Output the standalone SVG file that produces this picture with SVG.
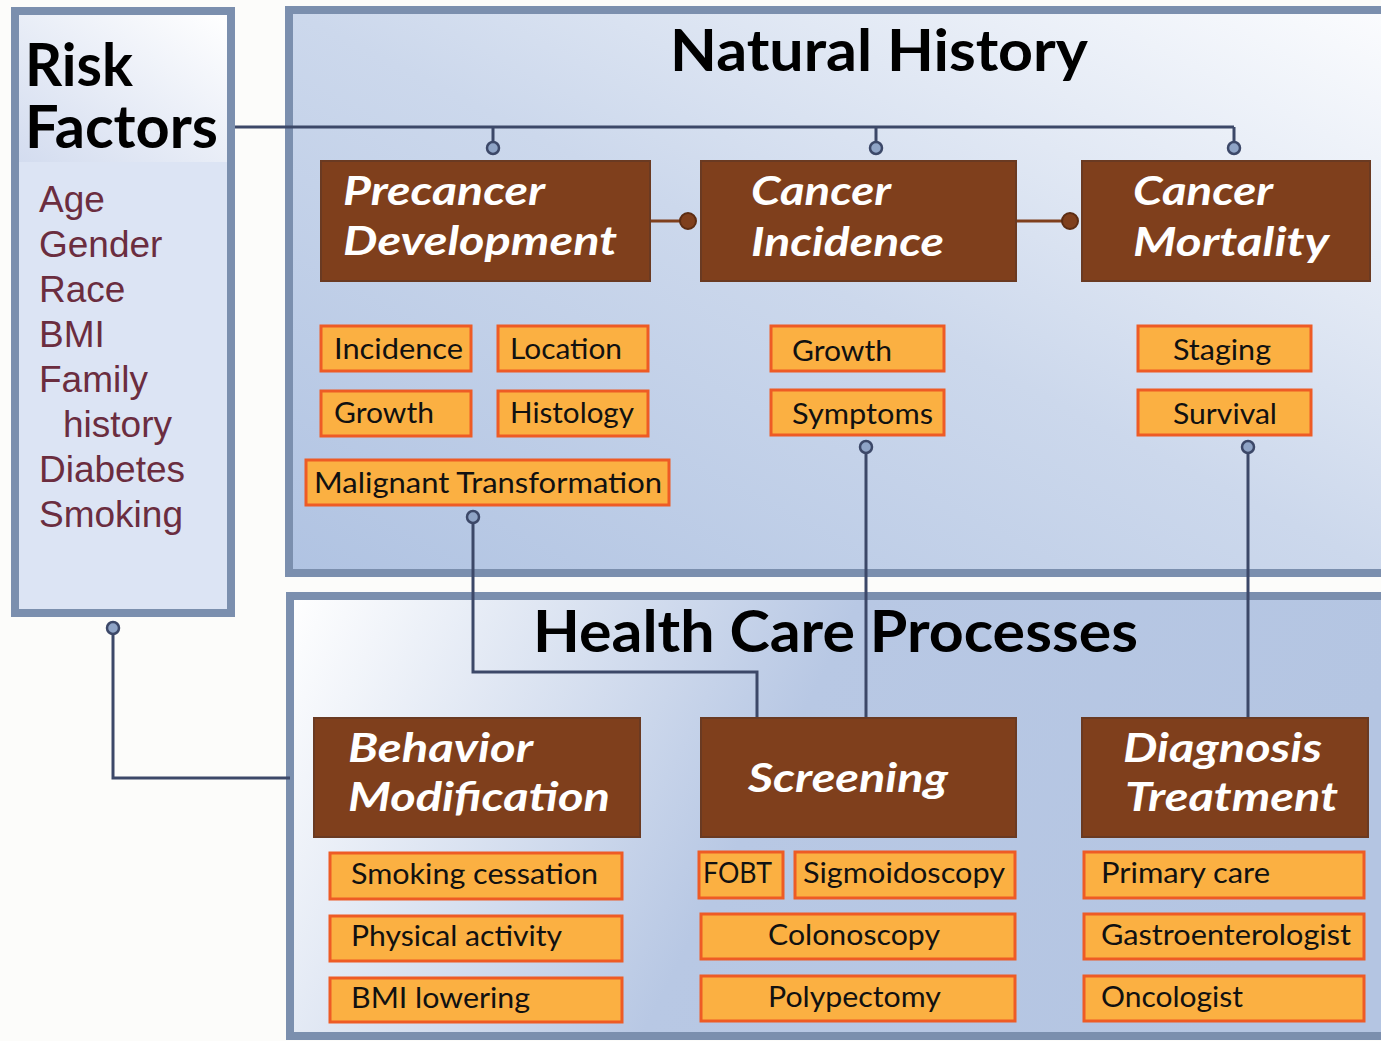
<svg xmlns="http://www.w3.org/2000/svg" width="1381" height="1041" viewBox="0 0 1381 1041">
<defs>
<linearGradient id="gNat" x1="0" y1="1" x2="1" y2="0">
<stop offset="0" stop-color="#b0c3e2"/>
<stop offset="0.5" stop-color="#ccd8ec"/>
<stop offset="1" stop-color="#fbfcfe"/>
</linearGradient>
<linearGradient id="gHcp" x1="0" y1="0" x2="1" y2="0.2">
<stop offset="0" stop-color="#ffffff"/>
<stop offset="0.5" stop-color="#b8c8e4"/>
<stop offset="1" stop-color="#b4c5e2"/>
</linearGradient>
<linearGradient id="gRisk" x1="1" y1="0" x2="0" y2="1">
<stop offset="0" stop-color="#ffffff"/>
<stop offset="1" stop-color="#d3dcef"/>
</linearGradient>
<style>
.panel{stroke:#7b8fae;stroke-width:8}
.title{font-family:Lato,"Liberation Sans",sans-serif;font-weight:bold;fill:#000}
.brown{fill:#7f3f1c;stroke:#6a3a22;stroke-width:2}
.btxt{font-family:Lato,"Liberation Sans",sans-serif;font-weight:bold;font-style:italic;font-size:40px;fill:#fff}
.orange{fill:#fbb042;stroke:#ee5b25;stroke-width:3}
.otxt{font-family:Lato,"Liberation Sans",sans-serif;font-size:29px;fill:#111}
.risk{font-family:"Liberation Sans",Arial,sans-serif;font-size:37px;fill:#6b2d3f}
.conn{fill:none;stroke:#3c4868;stroke-width:3}
.bconn{fill:none;stroke:#7f3f1c;stroke-width:3}
.dot{fill:#8fa4c6;stroke:#3c4868;stroke-width:2.5}
.bdot{fill:#7f3f1c;stroke:#5c2c12;stroke-width:2}
</style>
</defs>
<rect x="0" y="0" width="1381" height="1041" fill="#fcfcfa"/>

<g id="panel-natural-history">
<rect class="panel" x="289" y="10" width="1100" height="563" fill="url(#gNat)"/>
<text class="title" x="670" y="71" font-size="58" textLength="418" lengthAdjust="spacingAndGlyphs">Natural History</text>
</g>
<g id="panel-health-care">
<rect class="panel" x="290" y="596" width="1100" height="440" fill="url(#gHcp)"/>
<text class="title" x="533" y="652" font-size="58" textLength="605" lengthAdjust="spacingAndGlyphs">Health Care Processes</text>
</g>

<g id="risk-factors">
<rect class="panel" x="15" y="11" width="216" height="602" fill="#dce4f4"/>
<rect x="19" y="15" width="208" height="147" fill="url(#gRisk)"/>
<text class="title" font-size="60"><tspan x="25" y="86" textLength="108" lengthAdjust="spacingAndGlyphs">Risk</tspan><tspan x="25" y="148" textLength="193" lengthAdjust="spacingAndGlyphs">Factors</tspan></text>
<text class="risk" x="39" y="212">Age</text>
<text class="risk" x="39" y="257">Gender</text>
<text class="risk" x="39" y="302">Race</text>
<text class="risk" x="39" y="347">BMI</text>
<text class="risk" x="39" y="392">Family</text>
<text class="risk" x="63" y="437">history</text>
<text class="risk" x="39" y="482">Diabetes</text>
<text class="risk" x="39" y="527">Smoking</text>
</g>

<g id="connectors">
<path class="conn" d="M235 127 H1234 M493 127 V142 M876 127 V142 M1234 127 V142"/>
<circle class="dot" cx="493" cy="148" r="6"/>
<circle class="dot" cx="876" cy="148" r="6"/>
<circle class="dot" cx="1234" cy="148" r="6"/>
<path class="bconn" d="M650 221 H682 M1016 221 H1064"/>
<circle class="bdot" cx="688" cy="221" r="8"/>
<circle class="bdot" cx="1070" cy="221" r="8"/>
<path class="conn" d="M473 523 V672 H757 V718"/>
<path class="conn" d="M866 453 V718"/>
<path class="conn" d="M1248 453 V718"/>
<path class="conn" d="M113 634 V778 H290"/>
<circle class="dot" cx="473" cy="517" r="6"/>
<circle class="dot" cx="866" cy="447" r="6"/>
<circle class="dot" cx="1248" cy="447" r="6"/>
<circle class="dot" cx="113" cy="628" r="6"/>
</g>

<g id="precancer-development">
<rect class="brown" x="321" y="161" width="329" height="120"/>
<text class="btxt" x="343" y="205" textLength="202" lengthAdjust="spacingAndGlyphs">Precancer</text>
<text class="btxt" x="343" y="255" textLength="274" lengthAdjust="spacingAndGlyphs">Development</text>
</g>
<g id="cancer-incidence">
<rect class="brown" x="701" y="161" width="315" height="120"/>
<text class="btxt" x="751" y="205" textLength="140" lengthAdjust="spacingAndGlyphs">Cancer</text>
<text class="btxt" x="751" y="256" textLength="193" lengthAdjust="spacingAndGlyphs">Incidence</text>
</g>
<g id="cancer-mortality">
<rect class="brown" x="1082" y="161" width="288" height="120"/>
<text class="btxt" x="1133" y="205" textLength="140" lengthAdjust="spacingAndGlyphs">Cancer</text>
<text class="btxt" x="1133" y="256" textLength="196" lengthAdjust="spacingAndGlyphs">Mortality</text>
</g>

<g id="pre-incidence"><rect class="orange" x="321" y="326" width="150" height="45"/><text class="otxt" x="334" y="359" textLength="129" lengthAdjust="spacingAndGlyphs">Incidence</text></g>
<g id="pre-location"><rect class="orange" x="498" y="326" width="150" height="45"/><text class="otxt" x="510" y="359" textLength="112" lengthAdjust="spacingAndGlyphs">Location</text></g>
<g id="pre-growth"><rect class="orange" x="321" y="391" width="150" height="45"/><text class="otxt" x="334" y="423" textLength="100" lengthAdjust="spacingAndGlyphs">Growth</text></g>
<g id="pre-histology"><rect class="orange" x="498" y="391" width="150" height="45"/><text class="otxt" x="510" y="423" textLength="124" lengthAdjust="spacingAndGlyphs">Histology</text></g>
<g id="pre-malignant"><rect class="orange" x="306" y="460" width="363" height="45"/><text class="otxt" x="314" y="493" textLength="348" lengthAdjust="spacingAndGlyphs">Malignant Transformation</text></g>
<g id="inc-growth"><rect class="orange" x="771" y="326" width="173" height="45"/><text class="otxt" x="792" y="361" textLength="100" lengthAdjust="spacingAndGlyphs">Growth</text></g>
<g id="inc-symptoms"><rect class="orange" x="771" y="390" width="173" height="45"/><text class="otxt" x="792" y="424" textLength="141" lengthAdjust="spacingAndGlyphs">Symptoms</text></g>
<g id="mort-staging"><rect class="orange" x="1138" y="326" width="173" height="45"/><text class="otxt" x="1173" y="360" textLength="98" lengthAdjust="spacingAndGlyphs">Staging</text></g>
<g id="mort-survival"><rect class="orange" x="1138" y="390" width="173" height="45"/><text class="otxt" x="1173" y="424" textLength="104" lengthAdjust="spacingAndGlyphs">Survival</text></g>

<g id="behavior-modification">
<rect class="brown" x="314" y="718" width="326" height="119"/>
<text class="btxt" x="348" y="762" textLength="185" lengthAdjust="spacingAndGlyphs">Behavior</text>
<text class="btxt" x="348" y="811" textLength="262" lengthAdjust="spacingAndGlyphs">Modification</text>
</g>
<g id="screening">
<rect class="brown" x="701" y="718" width="315" height="119"/>
<text class="btxt" x="748" y="792" textLength="200" lengthAdjust="spacingAndGlyphs">Screening</text>
</g>
<g id="diagnosis-treatment">
<rect class="brown" x="1082" y="718" width="286" height="119"/>
<text class="btxt" x="1123" y="762" textLength="199" lengthAdjust="spacingAndGlyphs">Diagnosis</text>
<text class="btxt" x="1125" y="811" textLength="213" lengthAdjust="spacingAndGlyphs">Treatment</text>
</g>

<g id="bm-smoking"><rect class="orange" x="330" y="853" width="292" height="46"/><text class="otxt" x="351" y="884" textLength="247" lengthAdjust="spacingAndGlyphs">Smoking cessation</text></g>
<g id="bm-physical"><rect class="orange" x="330" y="916" width="292" height="45"/><text class="otxt" x="351" y="946" textLength="211" lengthAdjust="spacingAndGlyphs">Physical activity</text></g>
<g id="bm-bmi"><rect class="orange" x="330" y="978" width="292" height="44"/><text class="otxt" x="351" y="1008" textLength="179" lengthAdjust="spacingAndGlyphs">BMI lowering</text></g>
<g id="sc-fobt"><rect class="orange" x="699" y="852" width="84" height="46"/><text class="otxt" x="703" y="883" textLength="69" lengthAdjust="spacingAndGlyphs">FOBT</text></g>
<g id="sc-sigmoid"><rect class="orange" x="795" y="852" width="220" height="46"/><text class="otxt" x="803" y="883" textLength="202" lengthAdjust="spacingAndGlyphs">Sigmoidoscopy</text></g>
<g id="sc-colonoscopy"><rect class="orange" x="701" y="914" width="314" height="45"/><text class="otxt" x="768" y="945" textLength="172" lengthAdjust="spacingAndGlyphs">Colonoscopy</text></g>
<g id="sc-polypectomy"><rect class="orange" x="701" y="976" width="314" height="45"/><text class="otxt" x="768" y="1007" textLength="173" lengthAdjust="spacingAndGlyphs">Polypectomy</text></g>
<g id="dt-primary"><rect class="orange" x="1084" y="852" width="280" height="46"/><text class="otxt" x="1101" y="883" textLength="169" lengthAdjust="spacingAndGlyphs">Primary care</text></g>
<g id="dt-gastro"><rect class="orange" x="1084" y="914" width="280" height="45"/><text class="otxt" x="1101" y="945" textLength="250" lengthAdjust="spacingAndGlyphs">Gastroenterologist</text></g>
<g id="dt-oncologist"><rect class="orange" x="1084" y="976" width="280" height="45"/><text class="otxt" x="1101" y="1007" textLength="142" lengthAdjust="spacingAndGlyphs">Oncologist</text></g>
</svg>
